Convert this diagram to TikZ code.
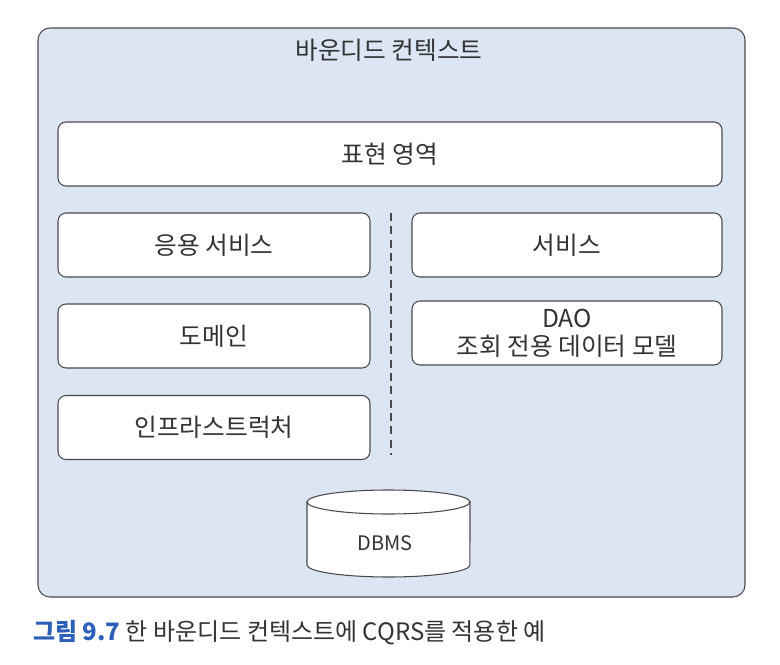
\documentclass[tikz,border=0pt]{standalone}
\usepackage{fontspec}
\setmainfont{Noto Sans CJK KR}
\definecolor{ctxfill}{HTML}{DCE5F3}
\definecolor{linegray}{HTML}{4A4A4A}
\definecolor{txtgray}{HTML}{333333}
\definecolor{capblue}{HTML}{2B5FB8}
\tikzset{
  layerbox/.style={draw=linegray, line width=0.8pt, fill=white, rounded corners=6pt,
    minimum height=48pt, font=\fontsize{18.5}{21}\selectfont, text=txtgray, align=center, inner sep=0pt},
}
\begin{document}
\begin{tikzpicture}[x=0.75pt,y=0.75pt]
\useasboundingbox (0,0) rectangle (780,664);
% bounded context
\draw[draw=linegray, line width=0.8pt, fill=ctxfill, rounded corners=9pt] (38,67) rectangle (745,636);
\node[font=\fontsize{18.5}{21}\selectfont, text=txtgray] (title) at (389,614) {바운디드 컨텍스트};
% layers
\node[layerbox, minimum width=498pt] (pres) at (390,510) {표현 영역};
\node[layerbox, minimum width=234pt] (app) at (214,419) {응용 서비스};
\node[layerbox, minimum width=234pt] (dom) at (214,328) {도메인};
\node[layerbox, minimum width=234pt] (infra) at (214,236.5) {인프라스트럭처};
\node[layerbox, minimum width=232.5pt] (svc) at (567,419) {서비스};
\node[layerbox, minimum width=232.5pt] (dao) at (567,331) {DAO\\조회 전용 데이터 모델};
% divider
\coordinate (divtop) at (391,451);
\coordinate (divbot) at (391,209);
\draw[linegray, line width=0.8pt, dash pattern=on 6pt off 4pt] (divtop) -- (divbot);
% DBMS cylinder
\draw[draw=linegray, line width=0.8pt, fill=white]
  (307,162) -- (307,99) arc[start angle=180, end angle=360, x radius=61.1pt, y radius=9pt] -- (470,162) -- cycle;
\draw[draw=linegray, line width=0.8pt, fill=white] (388.5,162) ellipse[x radius=61.1pt, y radius=9pt];
\node[font=\fontsize{15}{17}\selectfont, text=txtgray] (dbms) at (385,121) {DBMS};
% caption
\node[anchor=base west, inner sep=0pt, font=\fontsize{18}{21}\selectfont, text=txtgray] (cap) at (33,24)
  {{\color{capblue}\bfseries 그림 9.7} 한 바운디드 컨텍스트에 CQRS를 적용한 예};
\end{tikzpicture}
\end{document}
